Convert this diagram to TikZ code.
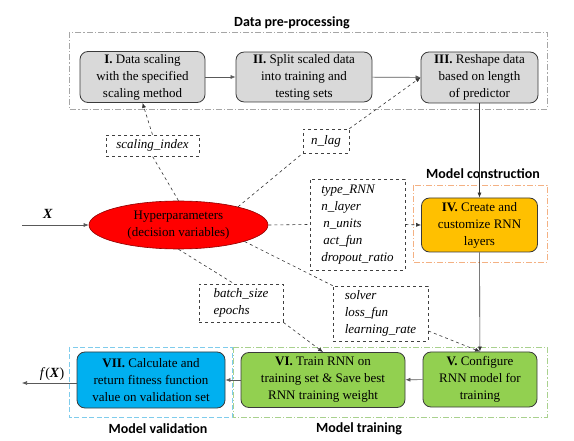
\documentclass[tikz,border=0pt]{standalone}
\usepackage{fontspec}
\setmainfont{Liberation Serif}
\newfontfamily\boxfont{Liberation Serif}
\newfontfamily\headfont{Carlito}
\usetikzlibrary{arrows.meta,positioning,shapes.geometric}
\definecolor{StageGray}{HTML}{D9D9D9}
\definecolor{StageAmber}{HTML}{FFC000}
\definecolor{StageGreen}{HTML}{92D050}
\definecolor{StageBlue}{HTML}{00B0F0}
\definecolor{StageEdge}{HTML}{3A3A3A}
\definecolor{HyperRed}{HTML}{FF0000}
\definecolor{FramePre}{HTML}{A6A6A6}
\definecolor{FrameBuild}{HTML}{F4B183}
\definecolor{FrameTrain}{HTML}{A9D18E}
\definecolor{FrameCheck}{HTML}{7FCCEC}
\tikzset{
  stage/.style={draw=StageEdge, line width=0.8pt, rounded corners=8pt,
    align=center, inner sep=2pt, font=\boxfont\fontsize{13}{17}\selectfont},
  prestage/.style={stage, fill=StageGray},
  buildstage/.style={stage, fill=StageAmber},
  trainstage/.style={stage, fill=StageGreen},
  checkstage/.style={stage, fill=StageBlue},
  hyperbox/.style={ellipse, draw=red!55!black, line width=0.6pt, fill=HyperRed,
    align=center, inner sep=0pt, minimum width=179pt, minimum height=48pt,
    font=\boxfont\fontsize{13}{17}\selectfont},
  parambox/.style={draw=black!75, dashed, line width=0.7pt, fill=white,
    align=left, inner sep=2pt, font=\boxfont\fontsize{13}{17}\selectfont\itshape},
  frame/.style={line width=0.8pt, dash pattern=on 6pt off 2pt on 1.2pt off 2pt},
  headline/.style={font=\headfont\fontsize{14}{16}\selectfont\bfseries},
  wire/.style={-{Latex[length=5pt,width=4pt]}, line width=0.6pt, draw=black!55},
  flowwire/.style={wire, draw=black!65},
  paramwire/.style={wire, dashed, draw=black!80},
  paramline/.style={dashed, line width=0.6pt, draw=black!80}
}
\begin{document}
\begin{tikzpicture}[x=1pt, y=-1pt]
  \useasboundingbox (0,0) rectangle (574,441);

  % stage frames
  \draw[frame, draw=FramePre] (69,32) rectangle (547,109);
  \draw[frame, draw=FrameBuild] (413,185) rectangle (547,262);
  \draw[frame, draw=FrameTrain] (233,347) rectangle (547,417);
  \draw[line width=0.8pt, dash pattern=on 5pt off 2.5pt, draw=FrameCheck] (69,347) rectangle (232,417);
  \node[headline] (prehead) at (292,23) {Data pre-processing};
  \node[headline] (buildhead) at (483,174) {Model construction};
  \node[headline] (checkhead) at (158,429) {Model validation};
  \node[headline] (trainhead) at (359,429) {Model training};

  % processing steps
  \node[prestage, minimum width=125pt, minimum height=51pt] (scale) at (142.5,77)
    {\textbf{I.} Data scaling\\with the specified\\scaling method};
  \node[prestage, minimum width=136pt, minimum height=48pt] (split) at (304,77)
    {\textbf{II.} Split scaled data\\into training and\\testing sets};
  \node[prestage, minimum width=117pt, minimum height=51pt] (reshape) at (479.5,77.5)
    {\textbf{III.} Reshape data\\based on length\\of predictor};
  \node[buildstage, minimum width=116pt, minimum height=54pt] (create) at (479.5,225)
    {\textbf{IV.} Create and\\customize RNN\\layers};
  \node[trainstage, minimum width=114pt, minimum height=55pt] (config) at (480,379.5)
    {\textbf{V.} Configure\\RNN model for\\training};
  \node[trainstage, minimum width=164pt, minimum height=55pt] (train) at (323,380)
    {\textbf{VI.} Train RNN on\\training set \& Save best\\RNN training weight};
  \node[checkstage, minimum width=148pt, minimum height=56pt] (fitness) at (151,380)
    {\textbf{VII.} Calculate and\\return fitness function\\value on validation set};

  % hyperparameters
  \node[hyperbox] (hyper) at (178.5,225) {Hyperparameters\\(decision variables)};
  \node[parambox, minimum width=93pt, minimum height=21pt] (pscale) at (152.5,145.5) {scaling\_index};
  \node[parambox, minimum width=46pt, minimum height=24pt] (plag) at (326,141) {n\_lag};
  \node[parambox, minimum width=95pt, minimum height=91pt] (parch) at (357.5,224.5)
    {type\_RNN\\n\_layer\\\,n\_units\\\,act\_fun\\dropout\_ratio};
  \node[parambox, minimum width=84pt, minimum height=38pt] (pbatch) at (241,303) {batch\_size\\epochs};
  \node[parambox, minimum width=95pt, minimum height=55pt] (psolver) at (380.5,313.5)
    {solver\\loss\_fun\\learning\_rate};

  \node[font=\boxfont\fontsize{14}{16}\selectfont] (xin) at (48,214) {\textbf{\textit{X}}};
  \node[font=\boxfont\fontsize{14}{16}\selectfont] (fout) at (52,374) {\textit{f}(\textbf{\textit{X}})};
  \coordinate (xstart) at (22,225);
  \coordinate (fend) at (22,383);

  % main flow
  \draw[flowwire] (scale) -- (split);
  \draw[flowwire] (split) -- (reshape);
  \draw[flowwire, draw=black!80] (reshape) -- (create);
  \draw[flowwire, draw=black!80] (create) -- (config);
  \draw[flowwire] (config) -- (train);
  \draw[flowwire] (train) -- (fitness);
  \draw[flowwire] (xstart) -- (hyper);
  \draw[flowwire] (fitness.west |- fend) -- (fend);

  % hyperparameters to steps
  \draw[paramline] (hyper.north) -- (pscale.south);
  \draw[paramwire] (pscale.north) -- (scale.south);
  \draw[paramline] (hyper.17) -- (plag.south west);
  \draw[paramwire] (plag.north east) -- (reshape.west);
  \draw[paramline] (hyper.east) -- (parch.west);
  \draw[paramwire] (parch.east) -- (create.west);
  \draw[paramline] (hyper.south) -- (pbatch.110);
  \draw[paramwire] (pbatch.south east) -- (train.north);
  \draw[paramline] (hyper.-14) -- (psolver.north west);
  \draw[paramwire] (psolver.-20) -- (config.north);
\end{tikzpicture}
\end{document}
